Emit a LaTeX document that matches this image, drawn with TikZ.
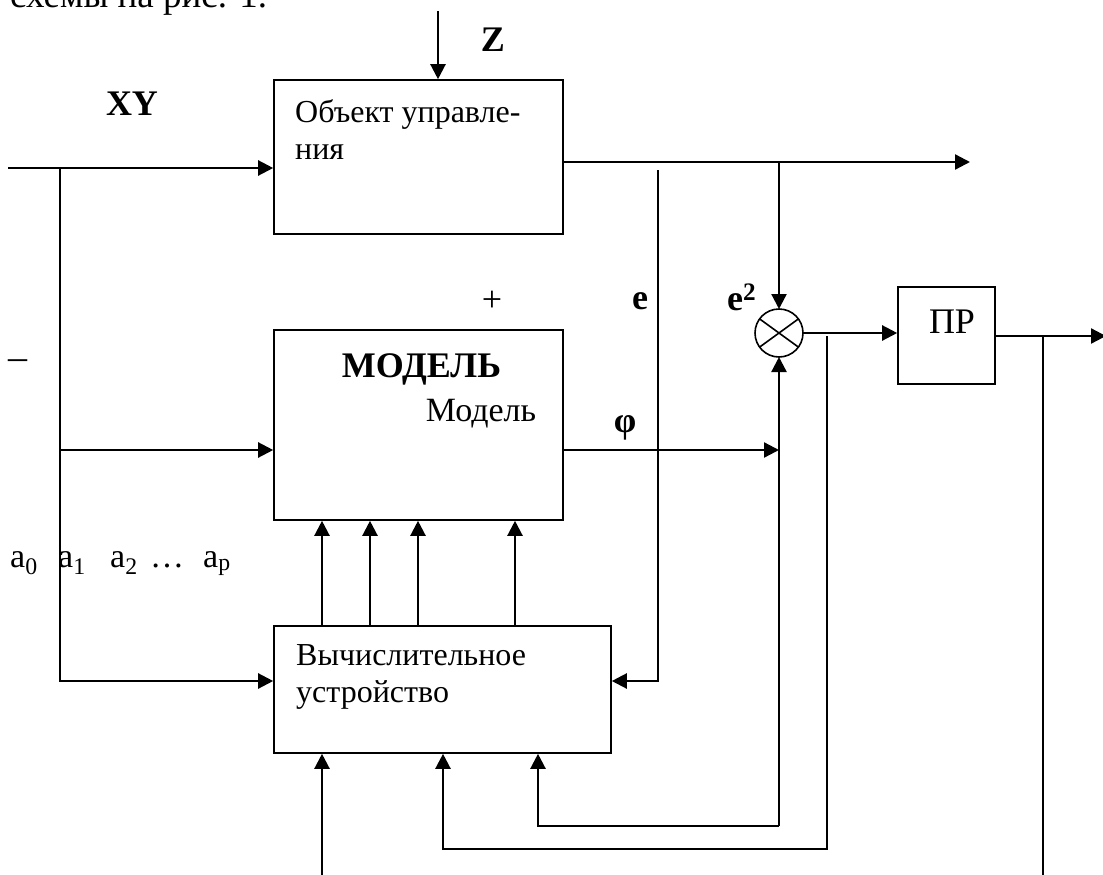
\documentclass[tikz,border=0pt]{standalone}
\usepackage{fontspec}
\setmainfont{Liberation Serif}
\usetikzlibrary{arrows.meta,positioning,calc}

\tikzset{
  blk/.style={draw, line width=1.6pt, inner sep=0pt},
  arr/.style={line width=2.3pt, -{Triangle[length=15pt,width=15pt]}},
  ln/.style={line width=2.3pt},
  txt/.style={inner sep=0pt, font=\fontsize{32}{37}\selectfont},
  lbl/.style={inner sep=0pt, font=\fontsize{36}{40}\selectfont\bfseries},
}

\begin{document}
\begin{tikzpicture}[x=1pt,y=-1pt]
  \useasboundingbox (0,0) rectangle (1103,875);
  \clip (0,0) rectangle (1103,875);

  %% Text above (cut by the page edge)
  \node[txt, font=\fontsize{37}{40}\selectfont, anchor=base west] (cap) at (10,8) {схемы на рис. 1.};

  %% Blocks
  \node[blk, minimum width=289, minimum height=154] (obj) at (418.5,157) {};
  \node[txt, anchor=north west, align=left] (objt) at (295,99) {Объект управле-\\ния};

  \node[blk, minimum width=289, minimum height=190] (mod) at (418.5,425) {};
  \node[lbl, anchor=base] (modt) at (421.5,377) {МОДЕЛЬ};
  \node[txt, font=\fontsize{34}{40}\selectfont, anchor=base] (modt2) at (481,421) {Модель};

  \node[blk, minimum width=337, minimum height=127] (vu) at (442.5,689.5) {};
  \node[txt, anchor=north west, align=left] (vut) at (296,644) {Вычислительное\\устройство};

  \node[blk, minimum size=97] (pr) at (946.5,335.5) {};
  \node[txt, font=\fontsize{36}{40}\selectfont, anchor=base] (prt) at (952,333) {ПР};

  %% Multiplier
  \node[draw, circle, line width=1.6pt, minimum size=48, inner sep=0pt, outer sep=0pt] (mul) at (779,333) {};
  \draw[line width=1.6pt] (mul.144) -- (mul.-36) (mul.36) -- (mul.216);

  %% Labels
  \node[lbl] (xy) at (132,104) {XY};
  \node[lbl] (z) at (493,40) {Z};
  \node[txt, font=\fontsize{36}{40}\selectfont] (plus) at (492,301) {+};
  \node[txt, font=\fontsize{38}{40}\selectfont] (minus) at (18,365) {–};
  \node[lbl] (e) at (640,301) {e};
  \node[lbl, anchor=base west] (e2) at (727,310) {e\textsuperscript{2}};
  \node[lbl] (phi) at (625,428) {φ};
  \foreach \xp/\t/\nm in {10/{a\textsubscript{0}}/a0, 58/{a\textsubscript{1}}/a1, 110/{a\textsubscript{2}}/a2, 150/{\ldots}/ad, 203/{a\textsubscript{p}}/ap}
    \node[txt, font=\fontsize{34}{40}\selectfont, anchor=base west] (\nm) at (\xp,567) {\t};

  %% Input bus
  \coordinate (inS) at (8,168);
  \coordinate (jA) at (60,168);
  \coordinate (jB) at (60,450);
  \coordinate (jC) at (60,681);
  \draw[arr] (inS) -- (inS -| obj.west);
  \draw[arr] (jA) |- (jC -| vu.west);
  \draw[arr] (jB) -- (jB -| mod.west);

  %% Disturbance
  \coordinate (zS) at (438,11);
  \draw[arr] (zS) -- (zS |- obj.north);

  %% Object output
  \coordinate (outE) at (970,162);
  \coordinate (brA) at (779,162);
  \draw[arr] (obj.east |- outE) -- (outE);
  \draw[arr] (brA) -- (mul.north);

  %% Error line
  \coordinate (eS) at (658,170);
  \draw[arr] (eS) |- (jC -| vu.east);

  %% Model output
  \coordinate (phiE) at (779,450);
  \draw[arr] (jB -| mod.east) -- (phiE);

  %% Feedback loops
  \coordinate (lpA) at (779,826);
  \coordinate (lpB) at (538,826);
  \draw[arr] (lpA) -- (mul.south);
  \draw[arr] (lpA) -| (lpB |- vu.south);
  \coordinate (olA) at (827,336);
  \coordinate (olB) at (443,849);
  \draw[arr] (olA) |- (olB) -- (olB |- vu.south);

  %% Decision block
  \draw[arr] (mul.east) -- (mul.east -| pr.west);
  \coordinate (prE) at (1106,336);
  \coordinate (prJ) at (1043,336);
  \coordinate (prB) at (1043,875);
  \draw[arr] (pr.east |- prE) -- (prE);
  \draw[ln] (prJ) -- (prB);

  %% Bottom input
  \coordinate (blS) at (322,875);
  \draw[arr] (blS) -- (blS |- vu.south);

  %% Coefficients
  \foreach \xp in {322,370,418,515}
    \draw[arr] (vu.north -| \xp,0) -- (mod.south -| \xp,0);
\end{tikzpicture}
\end{document}
